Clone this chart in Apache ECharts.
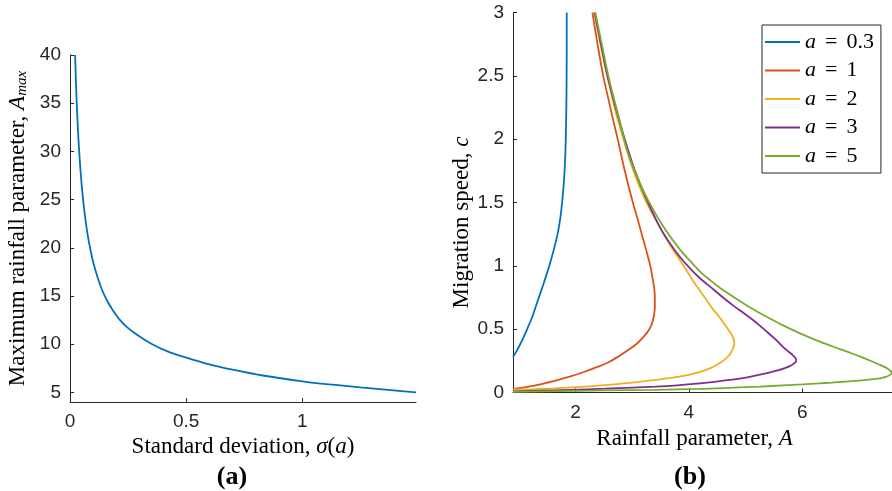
<!DOCTYPE html>
<html><head><meta charset="utf-8">
<script src="https://cdn.jsdelivr.net/npm/echarts@6/dist/echarts.min.js"></script>
<style>html,body{margin:0;padding:0;background:#fff}#c{width:892px;height:491px}</style>
</head><body><div id="c"></div>
<script>
// ---- panel (a) ----
const sigmaVals = [0.022,0.025,0.029,0.034,0.039,0.046,0.053,0.063,0.075,0.088,0.1,0.118,0.137,0.16,0.185,0.21,0.244,0.29,0.35,0.42,0.5,0.6,0.7,0.83,1.0,1.12,1.25,1.37,1.49];
const amaxVals  = [40.0,37.6,35.0,32.4,30.2,27.8,25.8,23.6,21.5,19.8,18.5,17.0,15.7,14.5,13.5,12.65,11.8,10.95,10.05,9.25,8.6,7.9,7.35,6.75,6.15,5.82,5.52,5.26,5.0];
const ticksA_x = [0,0.5,1];
const ticksA_y = [5,10,15,20,25,30,35,40];
// ---- panel (b) ----
const seriesNames = ['a = 0.3','a = 1','a = 2','a = 3','a = 5'];
const a03_A = [0.9,0.96,1.02,1.085,1.15,1.25,1.34,1.44,1.54,1.62,1.69,1.735,1.765,1.795,1.815,1.83,1.84,1.845,1.847,1.847];
const a03_c = [0.28,0.325,0.375,0.435,0.5,0.61,0.73,0.86,1.0,1.13,1.26,1.38,1.5,1.65,1.8,2.0,2.25,2.5,2.75,3.0];
const a1_A = [0.9,1.15,1.40,1.65,1.90,2.15,2.40,2.60,2.76,2.93,3.08,3.20,3.29,3.35,3.38,3.40,3.40,3.39,3.36,3.32,3.25,3.17,3.09,3.0,2.87,2.745,2.66,2.585,2.49,2.39,2.30];
const a1_c = [0.028,0.045,0.067,0.094,0.125,0.162,0.204,0.243,0.285,0.335,0.385,0.44,0.49,0.545,0.6,0.67,0.74,0.82,0.9,1.0,1.12,1.25,1.38,1.52,1.75,2.0,2.16,2.31,2.5,2.75,3.0];
const a2_A = [0.9,1.3,1.64,2.1,2.52,3.0,3.40,3.75,4.0,4.2,4.37,4.52,4.63,4.72,4.77,4.80,4.79,4.75,4.69,4.62,4.53,4.42,4.31,4.20,4.06,3.92,3.81,3.70,3.52,3.37,3.23,3.03,2.86,2.70,2.56,2.44,2.33];
const a2_c = [0.022,0.027,0.033,0.044,0.059,0.078,0.099,0.12,0.14,0.163,0.19,0.225,0.26,0.30,0.34,0.38,0.42,0.46,0.50,0.545,0.60,0.66,0.73,0.80,0.89,0.99,1.065,1.14,1.28,1.40,1.52,1.74,1.98,2.23,2.5,2.75,3.0];
const a3_A = [0.9,1.34,1.9,2.52,3.0,3.40,3.8,4.195,4.45,4.67,4.95,5.19,5.40,5.55,5.68,5.78,5.85,5.89,5.88,5.83,5.75,5.66,5.55,5.40,5.27,5.13,4.97,4.80,4.63,4.43,4.20,4.00,3.79,3.52,3.26,3.05,2.87,2.71,2.565,2.45,2.34];
const a3_c = [0.009,0.014,0.021,0.03,0.038,0.046,0.057,0.072,0.084,0.097,0.114,0.135,0.155,0.172,0.19,0.208,0.228,0.25,0.27,0.295,0.325,0.36,0.41,0.47,0.52,0.572,0.625,0.68,0.74,0.815,0.90,0.99,1.10,1.28,1.52,1.75,2.0,2.25,2.5,2.75,3.0];
const a5_A = [0.9,1.7,2.52,3.4,4.195,4.78,5.25,5.66,6.0,6.30,6.52,6.72,6.92,7.10,7.25,7.37,7.46,7.52,7.56,7.57,7.55,7.50,7.40,7.23,7.02,6.80,6.55,6.25,5.96,5.66,5.37,5.11,4.87,4.70,4.55,4.38,4.22,4.03,3.84,3.55,3.28,3.07,2.91,2.80,2.685,2.58,2.465,2.35];
const a5_c = [0.006,0.011,0.016,0.021,0.028,0.038,0.047,0.056,0.064,0.072,0.078,0.085,0.091,0.098,0.105,0.112,0.121,0.132,0.144,0.156,0.172,0.19,0.212,0.245,0.283,0.32,0.361,0.412,0.467,0.53,0.598,0.663,0.73,0.78,0.825,0.885,0.945,1.035,1.13,1.31,1.519,1.72,1.914,2.11,2.31,2.5,2.75,3.0];
const ticksB_x = [2,4,6];
const colors = ['#0072BD','#D95319','#EDB120','#7E2F8E','#77AC30'];

const pairs = (xs, ys) => xs.map((x, i) => [x, ys[i]]);
const curvesB = [[a03_A,a03_c],[a1_A,a1_c],[a2_A,a2_c],[a3_A,a3_c],[a5_A,a5_c]];

const SANS = '"Liberation Sans", Arial, sans-serif';
const SERIF = '"Liberation Serif", "Times New Roman", serif';
const AX = '#262626';
const NFS = 23;

function axisCommon(extra) {
  return Object.assign({
    type: 'value',
    splitLine: { show: false },
    axisLine: { show: true, onZero: false, lineStyle: { color: AX, width: 1 } },
    axisLabel: { color: AX, fontFamily: SANS, fontSize: 19, margin: 9 },
    axisTick: { show: true, inside: true, length: 4, lineStyle: { color: AX } },
    nameLocation: 'middle'
  }, extra);
}
const nameStyle = (extra) => Object.assign({
  fontFamily: SERIF, fontSize: NFS, color: '#000',
  rich: {
    i: { fontFamily: SERIF, fontSize: NFS, fontStyle: 'italic', color: '#000' },
    s: { fontFamily: SERIF, fontSize: 15, fontStyle: 'italic', color: '#000', padding: [10, 0, 0, 0] }
  }
}, extra);

const chart = echarts.init(document.getElementById('c'), null, { renderer: 'canvas' });
chart.setOption({
  animation: false,
  backgroundColor: '#fff',
  grid: [
    { left: 70, top: 55, width: 346, height: 347 },
    { left: 513, top: 12.5, width: 379, height: 380 }
  ],
  xAxis: [
    axisCommon({ gridIndex: 0, min: 0, max: 1.49,
      axisLabel: { color: AX, fontFamily: SANS, fontSize: 19, margin: 10, customValues: ticksA_x },
      axisTick: { show: true, inside: true, length: 4, lineStyle: { color: AX }, customValues: ticksA_x },
      name: 'Standard deviation, {i|σ}({i|a})', nameGap: 30, nameTextStyle: nameStyle() }),
    axisCommon({ gridIndex: 1, min: 0.9, max: 7.58,
      axisLabel: { color: AX, fontFamily: SANS, fontSize: 19, margin: 11, customValues: ticksB_x },
      axisTick: { show: true, inside: true, length: 4, lineStyle: { color: AX }, customValues: ticksB_x },
      name: 'Rainfall parameter, {i|A}', nameGap: 32, nameTextStyle: nameStyle({ padding: [0, 16, 0, 0] }) })
  ],
  yAxis: [
    axisCommon({ gridIndex: 0, min: 4, max: 40,
      axisLabel: { color: AX, fontFamily: SANS, fontSize: 19, margin: 9, customValues: ticksA_y },
      axisTick: { show: true, inside: true, length: 4, lineStyle: { color: AX }, customValues: ticksA_y },
      name: 'Maximum rainfall parameter, {i|A}{s|max}', nameGap: 40, nameTextStyle: nameStyle() }),
    axisCommon({ gridIndex: 1, min: 0, max: 3, interval: 0.5,
      name: 'Migration speed, {i|c}', nameGap: 27, nameTextStyle: nameStyle({ padding: [0, 40, 0, 0] }) })
  ],
  legend: {
    orient: 'vertical', left: 762, top: 25,
    padding: [5, 7, 5, 3], itemGap: 4.5, itemWidth: 35, itemHeight: 2, icon: 'rect',
    borderColor: AX, borderWidth: 1, backgroundColor: '#fff',
    data: seriesNames,
    formatter: (n) => '{i|a}{e|=}{n|' + n.split(' = ')[1] + '}',
    textStyle: {
      fontFamily: SERIF, fontSize: 22, color: '#000', lineHeight: 24,
      rich: {
        i: { fontFamily: SERIF, fontSize: 22, fontStyle: 'italic', color: '#000', lineHeight: 24 },
        e: { fontFamily: SERIF, fontSize: 22, color: '#000', lineHeight: 24, padding: [0, 9, 0, 9] },
        n: { fontFamily: SERIF, fontSize: 22, color: '#000', lineHeight: 24 }
      }
    }
  },
  graphic: [
    { type: 'text', x: 232, y: 477, style: { text: '(a)', font: 'bold 26px "Liberation Serif"', align: 'center', verticalAlign: 'middle', fill: '#000' } },
    { type: 'text', x: 690, y: 477, style: { text: '(b)', font: 'bold 26px "Liberation Serif"', align: 'center', verticalAlign: 'middle', fill: '#000' } }
  ],
  series: [
    { type: 'line', name: 'Amax', xAxisIndex: 0, yAxisIndex: 0, data: pairs(sigmaVals, amaxVals),
      symbol: 'none', smooth: 0.35, lineStyle: { color: colors[0], width: 1.8 }, itemStyle: { color: colors[0] } }
  ].concat(curvesB.map((cv, k) => ({
    type: 'line', name: seriesNames[k], xAxisIndex: 1, yAxisIndex: 1, data: pairs(cv[0], cv[1]),
    symbol: 'none', smooth: 0.35, lineStyle: { color: colors[k], width: 1.8 }, itemStyle: { color: colors[k] }
  })))
});
</script></body></html>
